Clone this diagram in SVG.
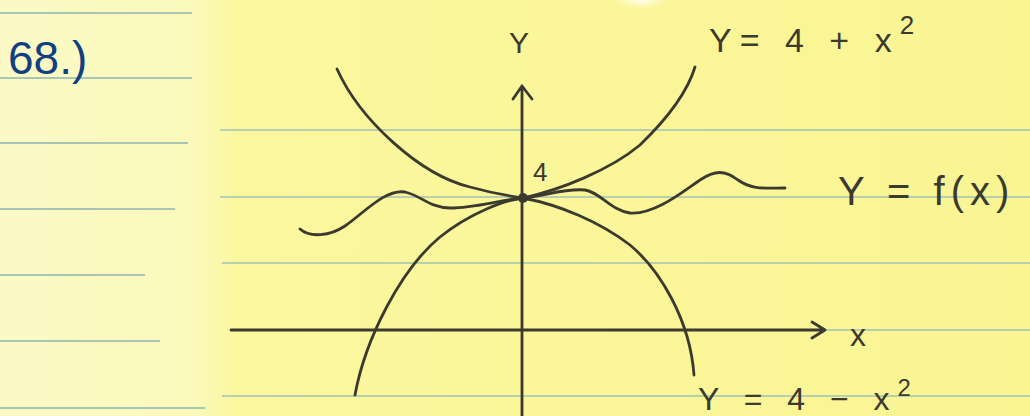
<svg xmlns="http://www.w3.org/2000/svg" width="1030" height="416" viewBox="0 0 1030 416">
<defs>
<linearGradient id="paper" x1="0" y1="0" x2="1" y2="0">
<stop offset="0" stop-color="#fbfac6"/>
<stop offset="0.19" stop-color="#fbf9bb"/>
<stop offset="0.23" stop-color="#fbf79e"/>
<stop offset="1" stop-color="#faf593"/>
</linearGradient>
<radialGradient id="glare" cx="0.5" cy="0.5" r="0.5">
<stop offset="0" stop-color="#ffffff" stop-opacity="0.8"/>
<stop offset="1" stop-color="#ffffff" stop-opacity="0"/>
</radialGradient>
<style>
.rule{stroke:#a8c6b3;stroke-width:2;fill:none}
.ink{stroke:#3c3a2f;stroke-width:2.8;fill:none;stroke-linecap:round;stroke-linejoin:round}
.lbl{font-family:"Liberation Sans","DejaVu Sans",sans-serif;fill:#3c3a2f;font-weight:normal}
.blue{font-family:"Liberation Sans","DejaVu Sans",sans-serif;fill:#123f82}
</style>
</defs>
<rect width="1030" height="416" fill="url(#paper)"/>
<ellipse cx="642" cy="0" rx="28" ry="9" fill="url(#glare)"/>
<g id="ruling">
<path class="rule" d="M0 13H192M0 78H192M0 143H188M0 209H175M0 275H145M0 341H160M0 408H205"/>
<path class="rule" d="M220 130H1030M220 197H1030M222 263H1030M232 330H1030M222 396H1030" opacity="0.8"/>
</g>
<g id="axes">
<path class="ink" d="M522 416V86M513 99L522 86L532 99"/>
<path class="ink" d="M231 330H825M812 322L825 330L812 338"/>
</g>
<g id="curves">
<path id="upper" class="ink" d="M337 69C360 120 420 175 470 187C495 194 510 196 523 198C560 190 610 170 640 145C668 118 688 90 695 67"/>
<path id="lower" class="ink" d="M355 395C365 340 400 270 440 237C470 213 505 200 523 198C560 205 600 222 630 245C660 270 690 320 694 375"/>
<path id="fx" class="ink" d="M300 229C310 238 330 236 345 226C365 212 385 189 405 192C420 195 430 208 450 208C475 208 500 200 523 198C545 196 565 188 585 190C600 192 610 210 630 213C655 215 685 190 700 180C715 170 725 170 738 180C752 190 765 188 785 188"/>
<circle cx="523" cy="198" r="5" fill="#3c3a2f"/>
</g>
<g id="labels">
<text class="blue" x="8" y="74" font-size="46">68.)</text>
<text class="lbl" x="509" y="53" font-size="30">Y</text>
<text class="lbl" x="533" y="181" font-size="26">4</text>
<text class="lbl" x="850" y="346" font-size="32">x</text>
<text class="lbl" x="709" y="52" font-size="34" letter-spacing="8">Y= 4 + x<tspan dy="-18" font-size="26">2</tspan></text>
<text class="lbl" x="838" y="205" font-size="40" letter-spacing="6">Y = f(x)</text>
<text class="lbl" x="698" y="410" font-size="32" letter-spacing="8">Y = 4 − x<tspan dy="-14" font-size="24">2</tspan></text>
</g>
</svg>
